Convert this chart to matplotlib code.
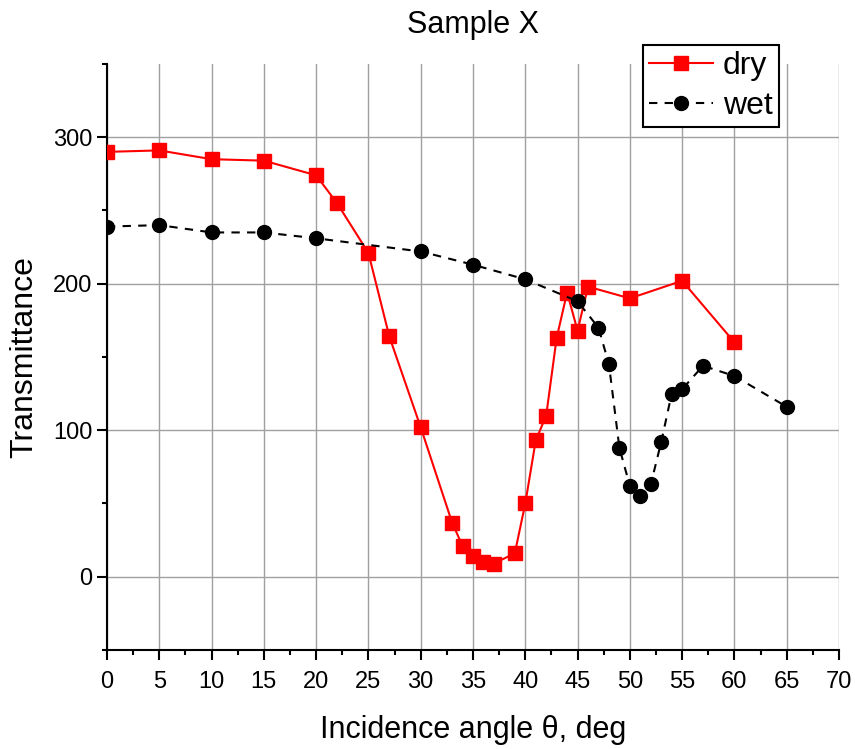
import matplotlib
matplotlib.use("Agg")
import matplotlib.pyplot as plt
from matplotlib.ticker import MultipleLocator

plt.rcParams['font.family'] = ['Liberation Sans', 'DejaVu Sans']

dry_x = [0, 5, 10, 15, 20, 22, 25, 27, 30, 33, 34, 35, 36, 37, 39, 40, 41, 42, 43, 44, 45, 46, 50, 55, 60]
dry_y = [290, 291, 285, 284, 274, 255, 221, 164, 102, 37, 21, 14, 10, 9, 16, 50, 93, 110, 163, 194, 168, 198, 190, 202, 160]

wet_x = [0, 5, 10, 15, 20, 30, 35, 40, 45, 47, 48, 49, 50, 51, 52, 53, 54, 55, 57, 60, 65]
wet_y = [239, 240, 235, 235, 231, 222, 213, 203, 188, 170, 145, 88, 62, 55, 63, 92, 125, 128, 144, 137, 116]

title = "Sample X"
xlabel = "Incidence angle θ, deg"
ylabel = "Transmittance"

fig = plt.figure(figsize=(8.55, 7.49), dpi=100)
ax = fig.add_axes([0.1251, 0.1322, 0.8562, 0.7824])

ax.plot(dry_x, dry_y, color='#ff0000', lw=1.5, marker='s', markersize=10,
        markerfacecolor='#ff0000', markeredgecolor='#ff0000', label='dry', zorder=3)
ax.plot(wet_x, wet_y, color='black', lw=1.5, dashes=(4, 3.5), marker='o', markersize=10,
        markerfacecolor='black', markeredgecolor='black', label='wet', zorder=3)

ax.set_xlim(0, 70)
ax.set_ylim(-50, 350)
ax.xaxis.set_major_locator(MultipleLocator(5))
ax.xaxis.set_minor_locator(MultipleLocator(2.5))
ax.yaxis.set_major_locator(MultipleLocator(100))
ax.yaxis.set_minor_locator(MultipleLocator(50))

ax.grid(True, which='major', color='#a0a0a0', lw=1.0, zorder=0)
ax.set_axisbelow(True)

for s in ['top', 'right']:
    ax.spines[s].set_visible(False)
for s in ['left', 'bottom']:
    ax.spines[s].set_linewidth(1.5)

ax.tick_params(which='major', direction='out', length=7, width=1.5, labelsize=17)
ax.tick_params(axis='x', which='major', pad=8)
ax.tick_params(which='minor', direction='out', length=3.6, width=1.5)

ax.set_title(title, fontsize=22, pad=22)
ax.set_xlabel(xlabel, fontsize=22, labelpad=16)
ax.set_ylabel(ylabel, fontsize=23, labelpad=10)

leg = ax.legend(loc='upper right', bbox_to_anchor=(0.911, 0.940),
                bbox_transform=fig.transFigure, fontsize=23, frameon=True,
                fancybox=False, edgecolor='black', borderaxespad=0,
                handlelength=2.0, handletextpad=0.3, borderpad=0.2, labelspacing=0.3)
leg.get_frame().set_linewidth(1.5)
leg.get_frame().set_alpha(1)

fig.savefig("out.png", dpi=100)
